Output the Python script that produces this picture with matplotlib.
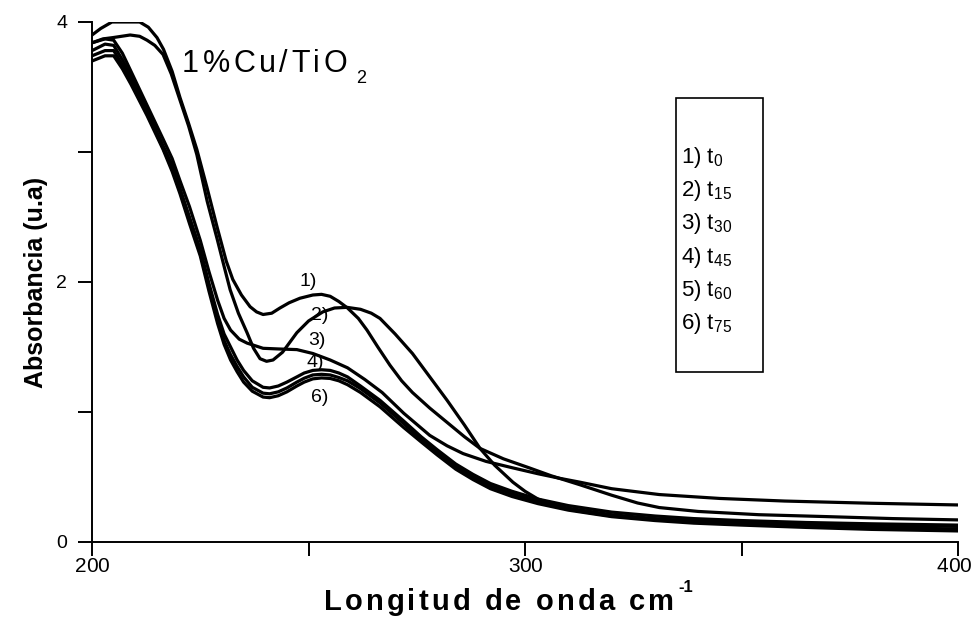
import matplotlib
matplotlib.use("Agg")
import matplotlib.pyplot as plt
from matplotlib.patches import Rectangle
from matplotlib.ticker import MultipleLocator, NullFormatter
from matplotlib.transforms import offset_copy, blended_transform_factory
from matplotlib.textpath import TextToPath
from matplotlib.font_manager import FontProperties

plt.rcParams['font.family'] = ['Liberation Sans', 'DejaVu Sans']
plt.rcParams['mathtext.fontset'] = 'custom'
plt.rcParams['mathtext.rm'] = 'Liberation Sans'
plt.rcParams['mathtext.it'] = 'Liberation Sans'
plt.rcParams['mathtext.bf'] = 'Liberation Sans:bold'

# wavelength (nm) / absorbance
x1 = [200, 202, 204.6, 211, 213, 215, 216.5, 218.5, 220.3, 222.3, 224.2, 226.6, 228.9, 231, 232.5, 234.5,
      236.5, 238, 239.5, 241.5, 243.4, 245.5, 248, 251, 253, 255, 257, 259, 261.5, 263.5, 266, 268.8,
      271.5, 274, 278, 282, 286, 289.6, 295, 301, 306, 312.7, 320, 326, 331, 340, 354, 370, 385, 400]
y1 = [3.90, 3.95, 4.0, 4.0, 3.96, 3.88, 3.79, 3.62, 3.42, 3.22, 3.02, 2.72, 2.42, 2.16, 2.02, 1.90,
      1.81, 1.77, 1.75, 1.76, 1.80, 1.84, 1.875, 1.90, 1.905, 1.89, 1.85, 1.80, 1.72, 1.63, 1.50, 1.36,
      1.24, 1.15, 1.03, 0.92, 0.81, 0.72, 0.64, 0.57, 0.51, 0.44, 0.36, 0.30, 0.265, 0.235, 0.21, 0.195, 0.18, 0.17]

x2 = [200, 202.5, 204.8, 208.8, 211, 212.7, 214.5, 216.4, 218.3, 220.3, 222.3, 224.2, 226.6, 228.9, 230.5,
      231.9, 233.8, 235.8, 237.3, 238.8, 240.3, 241.8, 244, 247.3, 250, 253.3, 256, 258.9, 262, 264.5,
      266.5, 270, 274, 278, 282, 286, 289.6, 293, 297.2, 300, 303, 307, 312, 320, 330, 345, 360, 380, 400]
y2 = [3.84, 3.87, 3.88, 3.90, 3.89, 3.86, 3.82, 3.75, 3.60, 3.40, 3.20, 2.98, 2.62, 2.33, 2.12,
      1.94, 1.76, 1.61, 1.49, 1.41, 1.39, 1.40, 1.46, 1.61, 1.70, 1.77, 1.80, 1.805, 1.79, 1.76,
      1.72, 1.60, 1.45, 1.27, 1.09, 0.90, 0.72, 0.59, 0.46, 0.39, 0.33, 0.28, 0.24, 0.20, 0.175, 0.155, 0.14, 0.13, 0.12]

x3 = [200, 203, 205, 207, 209, 212.7, 216.4, 218.5, 220.3, 222.5, 225, 227, 229, 230.5, 232, 234, 235.8,
      239.5, 243, 247.3, 251, 255, 259, 263, 267, 272, 278, 282, 285.7, 291, 297.2, 303, 308, 312.7,
      320, 331, 345, 360, 380, 400]
y3 = [3.84, 3.87, 3.86, 3.76, 3.62, 3.36, 3.10, 2.95, 2.78, 2.58, 2.32, 2.08, 1.86, 1.72, 1.63, 1.56, 1.53,
      1.49, 1.485, 1.48, 1.45, 1.40, 1.34, 1.25, 1.15, 0.99, 0.82, 0.74, 0.68, 0.62, 0.57, 0.525, 0.49, 0.46,
      0.41, 0.365, 0.335, 0.315, 0.298, 0.285]

x4 = [200, 203, 205, 207, 209, 212.7, 216.4, 218.5, 220.3, 222.5, 225, 227, 229, 230.5, 232, 233.5, 235,
      237, 239.5, 241, 243, 245, 247.3, 249, 251, 253, 255, 257, 259, 262, 266.5, 272, 276, 279.7, 284,
      288, 292, 297, 303, 310, 320, 330, 339, 350, 365, 380, 400]
y4 = [3.78, 3.83, 3.82, 3.71, 3.58, 3.32, 3.05, 2.90, 2.72, 2.50, 2.25, 1.99, 1.75, 1.60, 1.50, 1.40, 1.32,
      1.24, 1.19, 1.185, 1.20, 1.23, 1.27, 1.30, 1.32, 1.325, 1.32, 1.30, 1.27, 1.20, 1.09, 0.93, 0.81, 0.71, 0.60,
      0.52, 0.45, 0.39, 0.33, 0.28, 0.23, 0.20, 0.18, 0.165, 0.15, 0.14, 0.13]

x5 = [200, 203, 205, 207, 209, 212.7, 216.4, 218.5, 220.3, 222.5, 225, 227, 229, 230.5, 232, 233.5, 235,
      237, 239.5, 241, 243, 245, 247.3, 249, 251, 253, 255, 257, 259, 262, 266.5, 272, 276, 279.7, 284,
      288, 292, 297, 303, 310, 320, 330, 339, 350, 365, 380, 400]
y5 = [3.74, 3.78, 3.78, 3.67, 3.55, 3.30, 3.03, 2.87, 2.70, 2.47, 2.22, 1.96, 1.71, 1.55, 1.44, 1.35, 1.27,
      1.19, 1.145, 1.14, 1.155, 1.185, 1.23, 1.26, 1.285, 1.29, 1.285, 1.265, 1.24, 1.18, 1.07, 0.91, 0.79, 0.69, 0.58,
      0.50, 0.43, 0.37, 0.31, 0.26, 0.21, 0.18, 0.16, 0.145, 0.128, 0.112, 0.10]

x6 = [200, 203, 205, 207, 209, 212.7, 216.4, 218.5, 220.3, 222.5, 225, 227, 229, 230.5, 232, 233.5, 235,
      237, 239.5, 241, 243, 245, 247.3, 249, 251, 253, 255, 257, 259, 262, 266.5, 272, 276, 279.7, 284,
      288, 292, 297, 303, 310, 320, 330, 339, 350, 365, 380, 400]
y6 = [3.70, 3.74, 3.74, 3.64, 3.52, 3.28, 3.02, 2.85, 2.68, 2.45, 2.20, 1.93, 1.68, 1.52, 1.40, 1.31, 1.23,
      1.16, 1.115, 1.11, 1.125, 1.155, 1.20, 1.23, 1.255, 1.262, 1.258, 1.24, 1.21, 1.15, 1.04, 0.88, 0.77, 0.67, 0.56,
      0.48, 0.41, 0.35, 0.295, 0.245, 0.195, 0.165, 0.145, 0.13, 0.112, 0.097, 0.085]

series = [(x1, y1), (x2, y2), (x3, y3), (x4, y4), (x5, y5), (x6, y6)]
curve_tags = ["1)", "2)", "3)", "4)", "6)"]
tag_x = [250, 252.5, 252, 251.5, 252.5]
tag_y = [2.0, 1.74, 1.55, 1.38, 1.11]
legend_items = ["1) t$_{0}$", "2) t$_{15}$", "3) t$_{30}$", "4) t$_{45}$", "5) t$_{60}$", "6) t$_{75}$"]
x_ticks = [200, 300, 400]
y_ticks = [0, 2, 4]

fig = plt.figure(figsize=(9.74, 6.25), dpi=100)
ax = fig.add_axes([0.0945, 0.1328, 0.8891, 0.832])
ttp = TextToPath()


def tracked(x, y, s, prop, width_px, transform, ha='left', shift=0.0):
    # draw a string letter by letter so that it spans width_px pixels
    ws = [prop.get_size_in_points() * 0.28 if c == ' ' else
          ttp.get_text_width_height_descent(c, prop, ismath=False)[0] for c in s]
    total = width_px * 72.0 / fig.dpi
    gap = (total - sum(ws)) / max(len(s) - 1, 1)
    off = shift - total / 2 if ha == 'center' else shift
    for c, w in zip(s, ws):
        if c != ' ':
            fig.text(x, y, c, fontproperties=prop, va='baseline', ha='left',
                     transform=offset_copy(transform, fig=fig, x=off, y=0, units='points'))
        off += w + gap
    return off


for xs, ys in series:
    ax.plot(xs, ys, color='black', lw=2.3, solid_joinstyle='round', solid_capstyle='round')

ax.set_xlim(200, 400)
ax.set_ylim(0, 4)
ax.spines['top'].set_visible(False)
ax.spines['right'].set_visible(False)
ax.spines['left'].set_linewidth(1.4)
ax.spines['bottom'].set_linewidth(1.4)
ax.set_xticks(x_ticks)
ax.set_yticks(y_ticks)
ax.xaxis.set_minor_locator(MultipleLocator(50))
ax.yaxis.set_minor_locator(MultipleLocator(1))
ax.xaxis.set_major_formatter(NullFormatter())
ax.tick_params(which='both', direction='out', width=1.4, length=10, labelsize=14)
ax.tick_params(axis='y', pad=8)

narrow = ['Liberation Sans Narrow', 'Liberation Sans']
tick_prop = FontProperties(family=narrow, size=15)
xt = blended_transform_factory(ax.transData, ax.transAxes)
for v in x_ticks:
    # keep the last label inside the canvas
    tracked(v, -0.058, str(v), tick_prop, 34, xt, ha='center', shift=-3 if v == x_ticks[-1] else 0)

# x label with letter spacing, superscript -1
lab_prop = FontProperties(family=narrow, size=21, weight='bold')
end = tracked(324 / 974, 0.024, "Longitud de onda cm", lab_prop, 350, fig.transFigure)
fig.text(324 / 974, 0.024, "-1", fontproperties=FontProperties(family=narrow, size=12, weight='bold'),
         va='baseline', transform=offset_copy(fig.transFigure, fig=fig, x=end + 1, y=13, units='points'))

ax.set_ylabel("Absorbancia (u.a)", fontsize=18, fontweight='bold')
ax.yaxis.set_label_coords(-0.051, 0.5)

# sample label
title_prop = FontProperties(family=['Liberation Sans'], size=22)
tend = tracked(220.8, 3.615, "1%Cu/TiO", title_prop, 165, ax.transData)
fig.text(220.8, 3.615, "2", fontproperties=FontProperties(family=['Liberation Sans'], size=13),
         va='baseline', transform=offset_copy(ax.transData, fig=fig, x=tend + 4, y=-8, units='points'))

for t, tx, ty in zip(curve_tags, tag_x, tag_y):
    ax.text(tx, ty, t, fontsize=14, ha='center', va='center')

ax.add_patch(Rectangle((0.674, 0.327), 0.1005, 0.527, transform=ax.transAxes,
                       fill=False, lw=1.2, ec='black'))
for i, lab in enumerate(legend_items):
    ax.text(0.680, 0.740 - i * 0.0640, lab, transform=ax.transAxes, fontsize=16, va='center')

fig.savefig("out.png", dpi=100)
